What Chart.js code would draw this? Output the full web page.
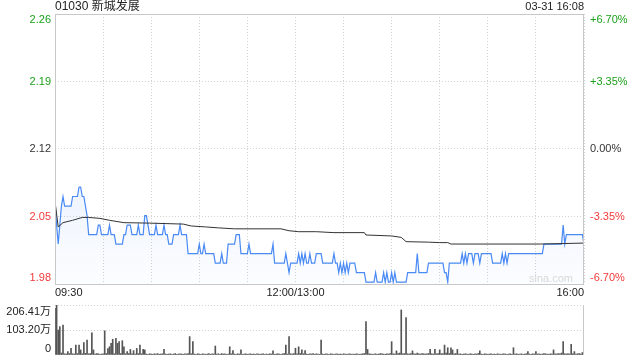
<!DOCTYPE html>
<html>
<head>
<meta charset="utf-8">
<script src="https://cdn.jsdelivr.net/npm/chart.js@4.4.0/dist/chart.umd.min.js"></script>
<style>
  body { margin: 0; background: #fff; }
  #wrap { position: relative; width: 640px; height: 360px; }
  #price { position: absolute; left: 0; top: 0; }
  #vol { position: absolute; left: 0; top: 300px; }
</style>
</head>
<body>
<div id="wrap">
  <canvas id="price" width="640" height="300"></canvas>
  <canvas id="vol" width="640" height="60"></canvas>
</div>
<script>
// Declaring our constants
var TITLE = '01030 新城发展';
var STAMP = '03-31 16:08';
var PREV_CLOSE = 2.12;
var LAST_MINUTE = 330;
var UP = '#1ba11b';
var DOWN = '#f23a3a';
var FLAT = '#333';
var FONT = '"Liberation Sans", Arial, "Noto Sans CJK SC", sans-serif';

// axis labels
var PCT_STEPS = [6.7, 3.35, 0, -3.35, -6.7];
var PRICE_LABELS = ['2.26', '2.19', '2.12', '2.05', '1.98'];
var PCT_LABELS = ['+6.70%', '+3.35%', '0.00%', '-3.35%', '-6.70%'];
var TIME_TICKS = [0, 150, 330];
var TIME_LABELS = ['09:30', '12:00/13:00', '16:00'];
var VOL_MAX = 206.41;
var VOL_TICKS = [206.41, 103.2, 0];
var VOL_LABELS = ['206.41万', '103.20万', '0'];

// one price per minute, 09:30 .. 16:00 (lunch break merged)
var PRICES = [
  2.065, 2.04, 2.02, 2.04, 2.06, 2.07, 2.06, 2.06, 2.06, 2.06,
  2.06, 2.07, 2.07, 2.07, 2.07, 2.08, 2.08, 2.07, 2.07, 2.06,
  2.05, 2.03, 2.03, 2.03, 2.03, 2.03, 2.03, 2.04, 2.04, 2.03,
  2.03, 2.03, 2.03, 2.03, 2.04, 2.03, 2.03, 2.03, 2.02, 2.02,
  2.02, 2.02, 2.02, 2.03, 2.03, 2.04, 2.04, 2.04, 2.03, 2.03,
  2.03, 2.03, 2.04, 2.03, 2.03, 2.03, 2.05, 2.05, 2.04, 2.03,
  2.03, 2.03, 2.03, 2.04, 2.03, 2.03, 2.03, 2.03, 2.04, 2.03,
  2.03, 2.02, 2.02, 2.02, 2.03, 2.03, 2.03, 2.03, 2.04, 2.03,
  2.03, 2.03, 2.03, 2.01, 2.01, 2.01, 2.01, 2.01, 2.01, 2.01,
  2.02, 2.01, 2.01, 2.02, 2.01, 2.01, 2.01, 2.01, 2.01, 2.01,
  2.00, 2.00, 2.00, 2.00, 2.01, 2.00, 2.00, 2.00, 2.02, 2.02,
  2.02, 2.02, 2.02, 2.03, 2.03, 2.03, 2.01, 2.01, 2.01, 2.01,
  2.01, 2.02, 2.01, 2.01, 2.01, 2.01, 2.01, 2.01, 2.01, 2.01,
  2.01, 2.01, 2.01, 2.01, 2.01, 2.01, 2.02, 2.00, 2.00, 2.00,
  2.00, 2.00, 2.00, 2.00, 2.01, 2.00, 1.99, 2.00, 2.00, 2.00,
  2.00, 2.00, 2.01, 2.00, 2.01, 2.00, 2.01, 2.00, 2.00, 2.01,
  2.00, 2.00, 2.00, 2.01, 2.01, 2.01, 2.01, 2.00, 2.00, 2.00,
  2.00, 2.00, 2.00, 2.00, 2.01, 2.00, 2.00, 1.99, 2.00, 1.99,
  2.00, 1.99, 2.00, 1.99, 2.00, 2.00, 2.00, 2.00, 1.99, 1.99,
  1.99, 1.99, 1.99, 1.99, 1.98, 1.98, 1.98, 1.98, 1.98, 1.98,
  1.99, 1.98, 1.98, 1.98, 1.98, 1.99, 1.98, 1.99, 1.98, 1.98,
  1.99, 1.98, 1.99, 1.98, 1.98, 1.98, 1.98, 1.98, 1.98, 1.98,
  1.99, 1.99, 1.99, 1.99, 1.99, 1.99, 2.01, 1.99, 1.99, 1.99,
  1.99, 1.99, 1.99, 2.00, 2.00, 2.00, 2.00, 2.00, 2.00, 2.00,
  2.00, 2.00, 2.00, 1.99, 1.99, 1.98, 2.00, 2.00, 2.00, 2.00,
  2.00, 2.00, 2.00, 2.00, 2.01, 2.00, 2.01, 2.00, 2.01, 2.01,
  2.01, 2.00, 2.01, 2.01, 2.01, 2.00, 2.01, 2.01, 2.01, 2.01,
  2.01, 2.01, 2.01, 2.00, 2.00, 2.00, 2.00, 2.00, 2.00, 2.01,
  2.00, 2.01, 2.00, 2.01, 2.01, 2.01, 2.01, 2.01, 2.01, 2.01,
  2.01, 2.01, 2.01, 2.01, 2.01, 2.01, 2.01, 2.01, 2.01, 2.01,
  2.01, 2.01, 2.01, 2.01, 2.01, 2.02, 2.02, 2.02, 2.02, 2.02,
  2.02, 2.02, 2.02, 2.02, 2.02, 2.02, 2.02, 2.04, 2.02, 2.03,
  2.03, 2.03, 2.03, 2.03, 2.03, 2.03, 2.03, 2.03, 2.03, 2.03,
  2.02
];

// average price line, [minute, price]
var AVG_POINTS = [
  [0, 2.065], [2, 2.038], [5, 2.0425], [11, 2.045], [17, 2.048], [21, 2.048],
  [28, 2.047], [34, 2.045], [43, 2.0425], [59, 2.042], [80, 2.041], [85, 2.039],
  [94, 2.038], [102, 2.037], [112, 2.036], [141, 2.036], [146, 2.034], [152, 2.033],
  [163, 2.033], [174, 2.032], [193, 2.032], [194, 2.0295], [210, 2.0285], [216, 2.027],
  [219, 2.0225], [233, 2.022], [240, 2.0215], [245, 2.0215], [247, 2.020], [303, 2.020],
  [330, 2.021]
];

// volume per minute, in 万 shares
var VOLUME = [
  193, 206.41, 103, 117, 8, 124, 5, 4, 14, 6,
  28, 5, 4, 41, 6, 41, 21, 5, 51, 7,
  62, 5, 6, 92, 21, 4, 6, 5, 3, 4,
  5, 100, 6, 27, 34, 48, 65, 5, 69, 48,
  55, 6, 59, 34, 5, 14, 6, 23, 5, 18,
  4, 27, 6, 41, 5, 23, 21, 4, 3, 5,
  4, 3, 5, 4, 6, 3, 4, 5, 23, 4,
  3, 4, 5, 3, 4, 6, 3, 4, 5, 4,
  3, 5, 4, 6, 76, 5, 55, 4, 3, 5,
  4, 3, 5, 4, 3, 4, 6, 3, 5, 4,
  37, 4, 5, 3, 6, 4, 5, 3, 4, 34,
  5, 18, 4, 3, 5, 4, 21, 3, 4, 5,
  3, 4, 5, 3, 4, 3, 5, 4, 3, 4,
  5, 3, 4, 3, 5, 4, 17, 3, 4, 5,
  4, 3, 5, 6, 41, 4, 76, 5, 4, 6,
  28, 5, 34, 6, 21, 5, 18, 4, 3, 5,
  4, 6, 3, 5, 4, 3, 62, 4, 3, 5,
  4, 3, 5, 4, 3, 4, 5, 3, 4, 3,
  5, 4, 3, 4, 5, 3, 4, 3, 5, 4,
  3, 4, 5, 6, 138, 23, 5, 4, 3, 4,
  5, 3, 4, 6, 5, 4, 3, 5, 4, 6,
  55, 5, 4, 17, 6, 8, 186, 5, 6, 154,
  5, 4, 6, 17, 5, 4, 8, 5, 4, 6,
  5, 4, 5, 6, 23, 5, 4, 23, 5, 6,
  21, 5, 6, 41, 8, 30, 6, 30, 21, 5,
  6, 23, 4, 5, 3, 4, 5, 4, 3, 5,
  4, 3, 5, 4, 6, 17, 4, 3, 5, 4,
  3, 4, 5, 3, 4, 3, 5, 4, 3, 4,
  5, 4, 3, 4, 5, 3, 30, 4, 5, 3,
  4, 5, 3, 4, 5, 14, 4, 3, 5, 4,
  14, 4, 5, 3, 4, 6, 5, 4, 3, 5,
  4, 21, 5, 4, 6, 5, 8, 55, 5, 4,
  6, 4, 44, 5, 14, 4, 5, 6, 4, 10,
  6
];

var GRID = '#d2d2d2';
var FRAME = '#c8c8c8';

function pctPrice(p) { return PREV_CLOSE * (1 + p / 100); }
function stepColor(p) { return p > 0 ? UP : (p < 0 ? DOWN : FLAT); }

var halfHours = [];
for (var m = 0; m <= LAST_MINUTE; m += 30) { halfHours.push({ value: m }); }

// PRICE CHART TEXT AND FRAME

var priceText = {
  id: 'priceText',
  afterDraw: function (chart) {
    var ctx = chart.ctx;
    var area = chart.chartArea;
    var x = chart.scales.x;
    var y = chart.scales.y;
    ctx.save();

    ctx.strokeStyle = FRAME;
    ctx.lineWidth = 1;
    ctx.strokeRect(Math.round(area.left) + 0.5, Math.round(area.top) + 0.5,
      Math.round(area.right - area.left) - 1, Math.round(area.bottom - area.top));

    ctx.font = '11px ' + FONT;
    ctx.textBaseline = 'middle';
    PCT_STEPS.forEach(function (p, i) {
      var py = y.getPixelForValue(pctPrice(p));
      if (i === 0) { py += 6; }
      if (i === PCT_STEPS.length - 1) { py -= 6; }
      ctx.fillStyle = stepColor(p);
      ctx.textAlign = 'right';
      ctx.fillText(PRICE_LABELS[i], area.left - 4, py);
      ctx.textAlign = 'left';
      ctx.fillText(PCT_LABELS[i], area.right + 6, py);
    });

    ctx.fillStyle = '#222';
    TIME_TICKS.forEach(function (t, i) {
      ctx.textAlign = i === 0 ? 'left' : (i === TIME_TICKS.length - 1 ? 'right' : 'center');
      ctx.fillText(TIME_LABELS[i], x.getPixelForValue(t), area.bottom + 9);
    });

    ctx.font = '12px ' + FONT;
    ctx.textAlign = 'left';
    ctx.fillText(TITLE, area.left, 7);
    ctx.font = '11px ' + FONT;
    ctx.textAlign = 'right';
    ctx.fillText(STAMP, area.right, 7);

    ctx.font = '11px ' + FONT;
    ctx.fillStyle = '#d8d8d8';
    ctx.fillText('sina.com', area.right - 11, area.bottom - 5);
    ctx.restore();
  }
};

new Chart(document.getElementById('price'), {
  type: 'line',
  data: {
    datasets: [
      {
        data: AVG_POINTS.map(function (d) { return { x: d[0], y: d[1] }; }),
        borderColor: '#333',
        borderWidth: 1,
        pointRadius: 0,
        tension: 0,
        fill: false
      },
      {
        data: PRICES.map(function (v, i) { return { x: i, y: v }; }),
        borderColor: '#4a8af4',
        borderWidth: 1.2,
        pointRadius: 0,
        tension: 0,
        fill: 'start',
        backgroundColor: function (c) {
          var area = c.chart.chartArea;
          if (!area) { return 'rgba(74,138,244,0.08)'; }
          var g = c.chart.ctx.createLinearGradient(0, area.top, 0, area.bottom);
          g.addColorStop(0, 'rgba(74,138,244,0.22)');
          g.addColorStop(1, 'rgba(74,138,244,0.02)');
          return g;
        }
      }
    ]
  },
  options: {
    responsive: false,
    animation: false,
    devicePixelRatio: 1,
    layout: { padding: { left: 55, right: 56, top: 14, bottom: 16 } },
    plugins: { legend: { display: false }, tooltip: { enabled: false } },
    scales: {
      x: {
        type: 'linear',
        min: 0,
        max: LAST_MINUTE,
        afterBuildTicks: function (s) { s.ticks = halfHours.slice(); },
        ticks: { display: false },
        grid: { color: GRID, drawTicks: false },
        border: { display: false, dash: [1, 2] }
      },
      y: {
        min: pctPrice(PCT_STEPS[PCT_STEPS.length - 1]),
        max: pctPrice(PCT_STEPS[0]),
        afterBuildTicks: function (s) {
          s.ticks = PCT_STEPS.map(function (p) { return { value: pctPrice(p) }; });
        },
        ticks: { display: false },
        grid: { color: GRID, drawTicks: false },
        border: { display: false, dash: [1, 2] }
      }
    }
  },
  plugins: [priceText]
});

// VOLUME CHART

var volText = {
  id: 'volText',
  afterDraw: function (chart) {
    var ctx = chart.ctx;
    var area = chart.chartArea;
    var y = chart.scales.y;
    ctx.save();
    ctx.strokeStyle = FRAME;
    ctx.lineWidth = 1;
    ctx.beginPath();
    ctx.moveTo(Math.round(area.right) - 0.5, area.top);
    ctx.lineTo(Math.round(area.right) - 0.5, area.bottom);
    ctx.stroke();

    ctx.font = '11px ' + FONT;
    ctx.fillStyle = '#222';
    ctx.textAlign = 'right';
    ctx.textBaseline = 'middle';
    VOL_TICKS.forEach(function (v, i) {
      var py = y.getPixelForValue(v);
      if (i === 0) { py += 7; }
      if (i === VOL_TICKS.length - 1) { py -= 6; }
      ctx.fillText(VOL_LABELS[i], area.left - 4, py);
    });
    ctx.restore();
  }
};

new Chart(document.getElementById('vol'), {
  type: 'bar',
  data: {
    datasets: [{
      data: VOLUME.map(function (v, i) { return { x: i, y: v }; }),
      backgroundColor: '#555',
      barThickness: 1
    }]
  },
  options: {
    responsive: false,
    animation: false,
    devicePixelRatio: 1,
    layout: { padding: { left: 55, right: 56, top: 5, bottom: 5 } },
    plugins: { legend: { display: false }, tooltip: { enabled: false } },
    scales: {
      x: {
        type: 'linear',
        min: 0,
        max: LAST_MINUTE,
        offset: false,
        ticks: { display: false },
        grid: { display: false, drawTicks: false },
        border: { display: false }
      },
      y: {
        min: 0,
        max: VOL_MAX,
        afterBuildTicks: function (s) {
          s.ticks = VOL_TICKS.map(function (v) { return { value: v }; });
        },
        ticks: { display: false },
        grid: {
          color: function (c) { return c.tick && c.tick.value === 0 ? 'rgba(0,0,0,0)' : GRID; },
          drawTicks: false
        },
        border: { display: false, dash: [1, 2] }
      }
    }
  },
  plugins: [volText]
});
</script>
</body>
</html>
